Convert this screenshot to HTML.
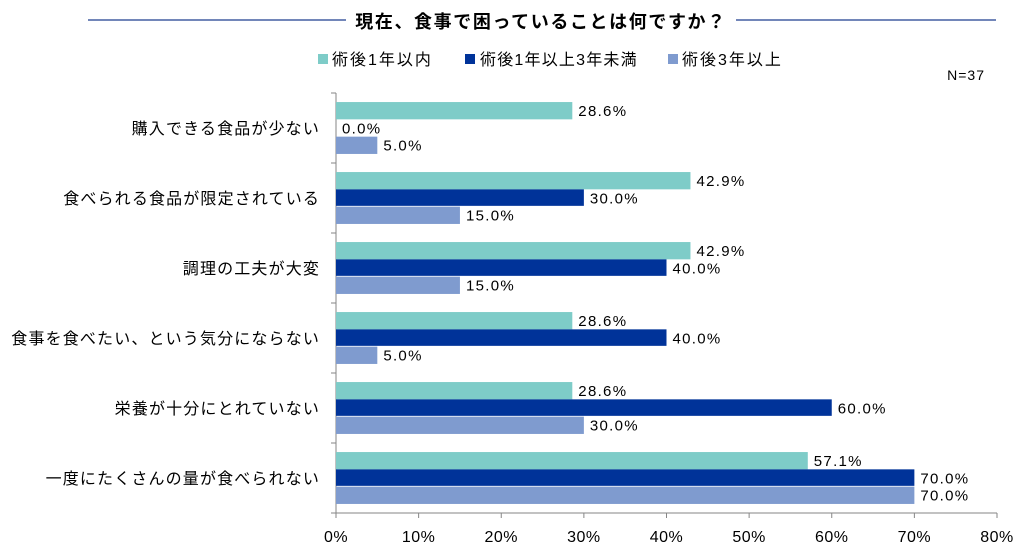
<!DOCTYPE html>
<html><head><meta charset="utf-8"><style>
body{margin:0;background:#fff;}
svg text{font-family:"Liberation Sans","Noto Sans CJK JP",sans-serif;fill:#000;}
</style></head><body>
<svg id="chart" width="1032" height="550" xmlns="http://www.w3.org/2000/svg">
<line x1="88" y1="20" x2="346" y2="20" stroke="#1f3f8f" stroke-width="1.3"/>
<line x1="736" y1="20" x2="996" y2="20" stroke="#1f3f8f" stroke-width="1.3"/>
<text x="541" y="28" text-anchor="middle" font-size="18" letter-spacing="1.6" font-weight="bold">現在、食事で困っていることは何ですか？</text>
<g>
<rect x="318" y="54" width="10" height="10" fill="#7ECCC8"/>
<text x="332" y="65" font-size="16" letter-spacing="2">術後1年以内</text>
<rect x="465" y="54" width="10" height="10" fill="#003399"/>
<text x="480" y="65" font-size="16" letter-spacing="1.2">術後1年以上3年未満</text>
<rect x="668" y="54" width="10" height="10" fill="#7F9BCF"/>
<text x="682" y="65" font-size="16" letter-spacing="2">術後3年以上</text>
</g>
<text x="985" y="80" text-anchor="end" font-size="14" letter-spacing="1">N=37</text>
<g id="plot"></g>
</svg>
<script>
const categories=["購入できる食品が少ない","食べられる食品が限定されている","調理の工夫が大変","食事を食べたい、という気分にならない","栄養が十分にとれていない","一度にたくさんの量が食べられない"];
const series1=[28.6,42.9,42.9,28.6,28.6,57.1];
const series2=[0.0,30.0,40.0,40.0,60.0,70.0];
const series3=[5.0,15.0,15.0,5.0,30.0,70.0];
const tickLabels=["0%","10%","20%","30%","40%","50%","60%","70%","80%"];
const tickValues=[0,10,20,30,40,50,60,70,80];
const colors=["#7ECCC8","#003399","#7F9BCF"];
const NS="http://www.w3.org/2000/svg";
const g=document.getElementById('plot');
const x0=336,x1=997,yTop=93,yBot=513;
const xs=v=>x0+(x1-x0)*v/80;
const band=(yBot-yTop)/categories.length;
function mk(tag,attrs){const e=document.createElementNS(NS,tag);for(const k in attrs)e.setAttribute(k,attrs[k]);g.appendChild(e);return e;}
const ax=mk('line',{x1:x0,y1:yTop,x2:x0,y2:yBot,stroke:'#868686'});


const axx=mk('line',{x1:x0,y1:yBot,x2:x1,y2:yBot,stroke:'#868686'});


for(let i=0;i<=categories.length;i++){
  const t=mk('line',{x1:x0-5,y1:yTop+i*band,x2:x0,y2:yTop+i*band,stroke:'#868686'});
  
  
}
tickValues.forEach((v,i)=>{
  const t=mk('line',{x1:xs(v),y1:yBot,x2:xs(v),y2:yBot+5,stroke:'#868686'});
  
  
  const l=mk('text',{x:xs(v),y:yBot+29,'text-anchor':'middle','font-size':'16','letter-spacing':'0.5'});
  l.textContent=tickLabels[i];
  
  
});
const all=[series1,series2,series3];
categories.forEach((c,i)=>{
  const cy=yTop+i*band+band/2;
  const lab=mk('text',{x:320,y:cy+6,'text-anchor':'end','font-size':'16','letter-spacing':'1.15'});
  lab.textContent=c;
  
  
  const bh=17.3;
  all.forEach((s,j)=>{
    const y=cy-bh*1.5+j*bh;
    const r=mk('rect',{x:x0,y:y,width:xs(s[i])-x0,height:bh-(j==1?0.8:0),fill:colors[j]});
    
    
    const t=mk('text',{x:xs(s[i])+6,y:y+14,'font-size':'15','letter-spacing':'1.3'});
    t.textContent=s[i].toFixed(1)+'%';
    
    
  });
});
</script>
</body></html>
